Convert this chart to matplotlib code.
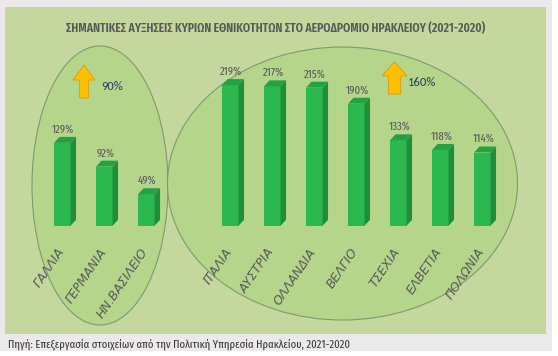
import matplotlib
matplotlib.use('Agg')
import matplotlib.pyplot as plt
from matplotlib.patches import Ellipse, Polygon, Rectangle
from matplotlib import font_manager as fm
from matplotlib.ft2font import FT2Font

# ---------------- data ----------------
title = "ΣΗΜΑΝΤΙΚΕΣ ΑΥΞΗΣΕΙΣ ΚΥΡΙΩΝ ΕΘΝΙΚΟΤΗΤΩΝ ΣΤΟ ΑΕΡΟΔΡΟΜΙΟ ΗΡΑΚΛΕΙΟΥ (2021-2020)"
source = "Πηγή: Επεξεργασία στοιχείων από την Πολιτική Υπηρεσία Ηρακλείου, 2021-2020"
categories = ['ΓΑΛΛΙΑ', 'ΓΕΡΜΑΝΙΑ', 'ΗΝ.ΒΑΣΙΛΕΙΟ', 'ΙΤΑΛΙΑ', 'ΑΥΣΤΡΙΑ',
              'ΟΛΛΑΝΔΙΑ', 'ΒΕΛΓΙΟ', 'ΤΣΕΧΙΑ', 'ΕΛΒΕΤΙΑ', 'ΠΟΛΩΝΙΑ']
values = [129, 92, 49, 219, 217, 215, 190, 133, 118, 114]
groups = [0, 0, 0, 1, 1, 1, 1, 1, 1, 1]
group_labels = ['90%', '160%']

# ---------------- fonts ----------------
all_text = title + source + ''.join(categories) + '0123456789%'
names = {f.name for f in fm.fontManager.ttflist}


def covers(name, text):
    if name not in names:
        return False
    try:
        path = fm.findfont(fm.FontProperties(family=name), fallback_to_default=False)
        f = FT2Font(path)
    except Exception:
        return False
    return all(f.get_char_index(ord(ch)) != 0 for ch in set(text) if not ch.isspace())


def pick(cands):
    for c in cands:
        if covers(c, all_text):
            return c
    return 'DejaVu Sans'


NARROW = pick(['Fira Sans Extra Condensed', 'Roboto Condensed', 'Fira Sans Condensed',
               'Ubuntu Condensed', 'Open Sans Condensed', 'Carlito'])
CAL = pick(['Carlito', 'Lato', 'Open Sans'])
FN = [NARROW, 'DejaVu Sans']
FC = [CAL, 'DejaVu Sans']
FI = ['DejaVu Sans']

W, H = 558, 356
fig = plt.figure(figsize=(W / 100, H / 100), dpi=100)
fig.patch.set_facecolor('white')

# background / decoration layer in pixel coordinates
bg = fig.add_axes([0, 0, 1, 1])
bg.set_xlim(0, W)
bg.set_ylim(H, 0)
bg.axis('off')
bg.add_patch(Rectangle((0, 0), 552, 351, color='#ece9ea', lw=0))
bg.add_patch(Rectangle((5, 7), 541, 327, color='#c4d79c', lw=0))
bg.add_patch(Ellipse((100, 185.5), 136, 279, fc='#b5d58b', ec='#7f9a72', lw=0.8))
bg.add_patch(Ellipse((342.5, 183.5), 350, 273, fc='#b5d58b', ec='#7f9a72', lw=0.8))


def up_arrow(cx, top, bottom, headw, shaftw, headh):
    pts = [(cx, top), (cx + headw / 2, top + headh), (cx + shaftw / 2, top + headh),
           (cx + shaftw / 2, bottom), (cx - shaftw / 2, bottom),
           (cx - shaftw / 2, top + headh), (cx - headw / 2, top + headh)]
    bg.add_patch(Polygon(pts, closed=True, fc='#ffc000', ec='#d8a520', lw=0.8, zorder=5))


up_arrow(84, 65, 98, 22, 9, 15)
up_arrow(394.5, 62, 94, 25, 12, 14)
t90 = bg.text(101, 87, group_labels[0], color='#243f66', fontsize=8.5, family=FC,
              ha='left', va='center', zorder=6)
t160 = bg.text(408, 83, group_labels[1], color='#243f66', fontsize=8.5, family=FC,
               ha='left', va='center', zorder=6)

# ---------------- main axes ----------------
px_per_unit = 0.642   # pixels per percentage point
slot_px = 42.0
ax = fig.add_axes([20.3 / W, (H - 225.7) / H, 504 / W, 180 / H])
ax.set_xlim(-1, 11)
ax.set_ylim(0, 180 / px_per_unit)
ax.axis('off')
ax.patch.set_alpha(0)

pos = [i + g for i, g in enumerate(groups)]
bw = 16.5 / slot_px
ddx = 5.5 / slot_px
ddy = 6.0 / px_per_unit
front, side, topc = '#2bb94f', '#1f8d39', '#24a243'

ax.bar(pos, values, width=bw, color=front, zorder=3)
val_texts = []
for p, v in zip(pos, values):
    r = p + bw / 2
    l = p - bw / 2
    ax.add_patch(Polygon([(r, 0), (r + ddx, ddy), (r + ddx, v + ddy), (r, v)],
                         closed=True, fc=side, ec='none', zorder=3))
    ax.add_patch(Polygon([(l, v), (l + ddx, v + ddy), (r + ddx, v + ddy), (r, v)],
                         closed=True, fc=topc, ec='none', zorder=3))
    t = ax.annotate(f'{v}%', xy=(p, v), xytext=(1, 8), textcoords='offset pixels',
                    ha='center', va='bottom', fontsize=7.8, family=FN,
                    color='#595959', annotation_clip=False)
    val_texts.append(t)

cat_texts = []
for p, c in zip(pos, categories):
    t = ax.annotate(c, xy=(p, 0), xytext=(-6, -20), textcoords='offset pixels',
                    ha='right', va='top', fontsize=8, family=FI, style='italic',
                    color='#595959', rotation=0, rotation_mode='anchor',
                    annotation_clip=False)
    cat_texts.append(t)

tt = fig.text(275.5 / W, 1 - 28 / H, title, ha='center', va='center',
              color='#595959', fontsize=8.5, family=FN, weight='semibold')
ts = fig.text(8 / W, 1 - 344 / H, source, ha='left', va='center',
              color='#3a3a3a', fontsize=7, family=FN)

# fit text sizes to measured widths
fig.canvas.draw()
rend = fig.canvas.get_renderer()


def fit(t, target):
    w = t.get_window_extent(rend).width
    t.set_fontsize(t.get_fontsize() * target / w)


fit(tt, 420)
fit(ts, 340)
fit(t160, 28)
t90.set_fontsize(t160.get_fontsize())
w = val_texts[3].get_window_extent(rend).width
vfs = val_texts[3].get_fontsize() * 22 / w
for t in val_texts:
    t.set_fontsize(vfs)
w = cat_texts[5].get_window_extent(rend).width
fs = cat_texts[5].get_fontsize() * 66 / w
for t in cat_texts:
    t.set_fontsize(fs)
    t.set_rotation(56)

fig.savefig('out.png', dpi=100, facecolor=fig.get_facecolor())
